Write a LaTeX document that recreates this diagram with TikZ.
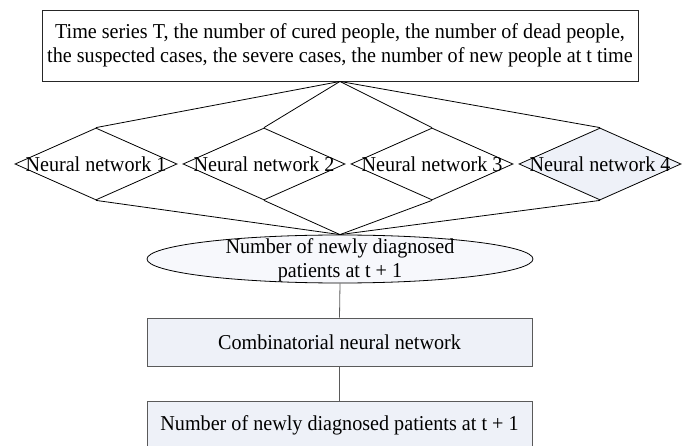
\documentclass[tikz,border=0pt]{standalone}
\usepackage{fontspec}
\setmainfont{Liberation Serif}[FakeStretch=0.95]
\usetikzlibrary{shapes.geometric}
\definecolor{boxfill}{HTML}{EEF1F8}
\definecolor{ellfill}{HTML}{F7F8FC}
\definecolor{linegray}{HTML}{5A5A5A}
\tikzset{
  bigfont/.style={font=\fontsize{21.2}{24}\selectfont},
  txt/.style={bigfont, align=center, inner sep=0pt},
  topbox/.style={draw=black!85, line width=0.9pt, minimum width=596pt, minimum height=71pt, inner sep=0pt},
  nn/.style={draw=black, line width=0.8pt, shape=diamond, minimum width=162pt, minimum height=72pt, inner sep=0pt, bigfont},
  nnfill/.style={fill=boxfill},
  ell/.style={draw=black, line width=0.8pt, shape=ellipse, fill=ellfill, minimum width=386pt, minimum height=48pt, inner sep=0pt},
  graybox/.style={draw=linegray, line width=0.8pt, fill=boxfill, minimum width=385pt, minimum height=48pt, inner sep=0pt, bigfont},
  conn/.style={draw=black, line width=0.8pt},
  vconn/.style={draw=linegray, line width=0.8pt},
}
\begin{document}
\begin{tikzpicture}[x=1pt,y=-1pt]
\clip (0,0) rectangle (688,446);
\useasboundingbox (0,0) rectangle (688,446);
\node[topbox] (top) at (340,45.5) {};
\node[txt] (toptext) at (top.center) {Time series T, the number of cured people, the number of dead people,\\the suspected cases, the severe cases, the number of new people at t time};
\node[nn] (n1) at (96,164) {\makebox[0pt]{Neural network 1}};
\node[nn] (n2) at (264,164) {\makebox[0pt]{Neural network 2}};
\node[nn] (n3) at (432,164) {\makebox[0pt]{Neural network 3}};
\node[nn,nnfill] (n4) at (600,164) {\makebox[0pt]{Neural network 4}};
\node[ell] (e) at (340,259) {};
\node[txt] (etext) at (340,260) {Number of newly diagnosed\\patients at t + 1};
\node[graybox] (c) at (339.5,342) {Combinatorial neural network};
\node[graybox] (o) at (339.5,425) {Number of newly diagnosed patients at t + 1};
\foreach \n in {n1,n2,n3,n4} {
  \draw[conn] (top.south) -- (\n.north);
  \draw[conn] (\n.south) -- (e.north);
}
\draw[vconn] (e.south) -- (c.north);
\draw[vconn] (c.south) -- (o.north);
\end{tikzpicture}
\end{document}
